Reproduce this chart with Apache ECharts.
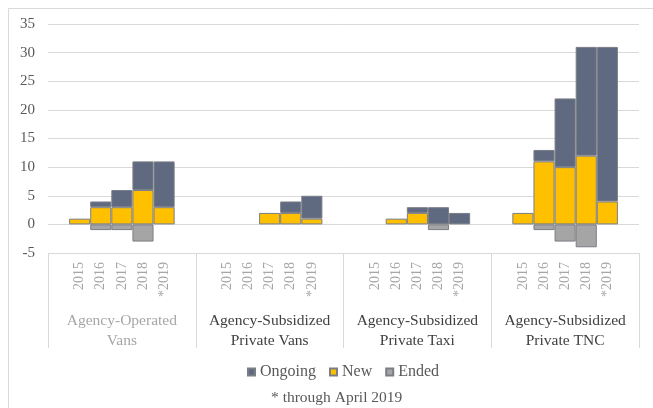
<!DOCTYPE html>
<html>
<head>
    <meta charset="utf-8">
    <title>Services by type</title>
    <style type="text/css">
        html, body { margin: 0; padding: 0; background: #fff; }
        #chart { width: 653px; height: 408px; }
    </style>
</head>
<body>
    <div id="chart"></div>
</body>
</html>

<script src="https://cdn.jsdelivr.net/npm/echarts@6/dist/echarts.min.js"></script>
<script>

    var groups = ['Agency-Operated\nVans', 'Agency-Subsidized\nPrivate Vans', 'Agency-Subsidized\nPrivate Taxi', 'Agency-Subsidized\nPrivate TNC'];
    var years = ['2015', '2016', '2017', '2018', '*2019'];

    // one row per group, one value per year
    var newVals     = [[1, 3, 3, 6, 3], [0, 0, 2, 2, 1], [0, 1, 2, 0, 0], [2, 11, 10, 12, 4]];
    var ongoingVals = [[0, 1, 3, 5, 8], [0, 0, 0, 2, 4], [0, 0, 1, 3, 2], [0, 2, 12, 19, 27]];
    var endedVals   = [[0, -1, -1, -3, 0], [0, 0, 0, 0, 0], [0, 0, 0, -1, 0], [0, -1, -3, -4, 0]];

    var font = 'Liberation Serif';

    // each group gets an empty slot on both sides, like the excel chart
    function pad(rows) {
        var out = [];
        for (var i = 0; i < rows.length; i++) {
            out.push(null);
            for (var j = 0; j < rows[i].length; j++) {
                out.push(rows[i][j] || null);
            }
            out.push(null);
        }
        return out;
    }

    var cats = [];
    for (var i = 0; i < groups.length; i++) {
        cats.push('');
        for (var j = 0; j < years.length; j++) cats.push(years[j]);
        cats.push('');
    }

    var groupData = groups.map(function (g, i) {
        return { value: g, textStyle: { color: i == 0 ? '#a6a6a6' : '#404040' } };
    });

    var barBorder = { borderColor: '#7b7e86', borderWidth: 1 };

    var option = {
        animation: false,
        title: {
            text: '* through April 2019',
            left: 266,
            top: 385,
            textStyle: { fontFamily: font, fontSize: 15.5, fontWeight: 'normal', color: '#595959' }
        },
        legend: {
            data: ['Ongoing', 'New', 'Ended'],
            left: 242,
            top: 359,
            icon: 'rect',
            itemWidth: 7,
            itemHeight: 7,
            itemGap: 13,
            textStyle: { fontFamily: font, fontSize: 16, color: '#595959' }
        },
        graphic: [{
            type: 'rect',
            shape: { x: 8.5, y: 8.5, width: 700, height: 500 },
            style: { fill: 'none', stroke: '#d9d9d9', lineWidth: 1 },
            silent: true
        }],
        grid: { left: 48, right: 14, top: 24, bottom: 155 },
        xAxis: [{
            type: 'category',
            data: cats,
            position: 'bottom',
            axisLine: { show: false, onZero: false },
            axisTick: { show: false },
            axisLabel: {
                interval: 0,
                rotate: 90,
                margin: 9,
                fontFamily: font,
                fontSize: 14,
                color: '#a6a6a6'
            }
        }, {
            type: 'category',
            data: groupData,
            position: 'bottom',
            axisLine: { show: false, onZero: false },
            axisTick: {
                show: true,
                interval: 0,
                length: 95,
                lineStyle: { color: '#d9d9d9' }
            },
            axisLabel: {
                interval: 0,
                margin: 58,
                fontFamily: font,
                fontSize: 15.5,
                lineHeight: 20
            }
        }],
        yAxis: {
            type: 'value',
            min: -5,
            max: 35,
            interval: 5,
            axisLine: { show: false },
            axisTick: { show: false },
            axisLabel: { margin: 13, fontFamily: font, fontSize: 15, color: '#595959' },
            splitLine: { lineStyle: { color: '#d9d9d9', width: 1 } }
        },
        series: [{
            name: 'New',
            type: 'bar',
            stack: 'all',
            barCategoryGap: '0%',
            data: pad(newVals),
            itemStyle: Object.assign({ color: '#ffc000' }, barBorder)
        }, {
            name: 'Ongoing',
            type: 'bar',
            stack: 'all',
            barCategoryGap: '0%',
            data: pad(ongoingVals),
            itemStyle: Object.assign({ color: '#5f6980' }, barBorder)
        }, {
            name: 'Ended',
            type: 'bar',
            stack: 'all',
            barCategoryGap: '0%',
            data: pad(endedVals),
            itemStyle: Object.assign({ color: '#a5a5a5' }, barBorder)
        }]
    };

    var chart = echarts.init(document.getElementById('chart'));
    chart.setOption(option);

</script>
